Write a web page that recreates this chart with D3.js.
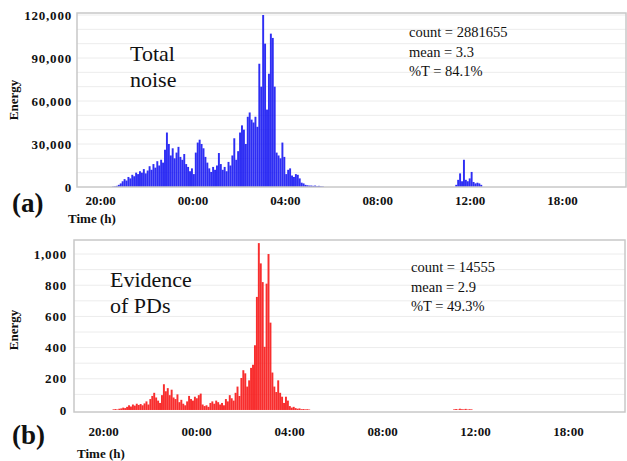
<!DOCTYPE html>
<html>
<head>
<meta charset="utf-8">
<script src="https://cdn.jsdelivr.net/npm/d3@7"></script>
<style>
  html, body { margin: 0; padding: 0; background: #fff; }
  svg { display: block; }
</style>
</head>
<body>
<svg id="chart" width="627" height="461"></svg>
<script>
// ---------- data ----------
const tickHours = [20, 24, 28, 32, 36, 40];
const tickLabels = ["20:00", "00:00", "04:00", "08:00", "12:00", "18:00"];
const binStep = 1 / 12; // 5-minute bins, in hours

// Panel (a): total noise energy
const noiseYTicks = [0, 30000, 60000, 90000, 120000];
const noiseMainStart = 20.56;
const noiseMainValues = [
  300, 500, 800, 1500, 2500, 4000, 5500, 4500, 7000, 6000,
  8500, 7500, 10000, 9000, 11000, 10000, 12500, 9500, 11500, 14500,
  12000, 16000, 13500, 18000, 15000, 19000, 17000, 26000, 38000, 30000,
  22000, 27000, 20000, 24000, 28000, 21000, 19000, 23000, 16000, 14000,
  11000, 13000, 9000, 24000, 31000, 33000, 30000, 27000, 21000, 17000,
  13000, 10500, 14000, 12000, 15000, 23700, 16000, 12000, 14000, 11000,
  17500, 15000, 22000, 34000, 19000, 25000, 38000, 43000, 40000, 30000,
  49000, 52000, 47000, 45000, 49000, 42000, 86000, 70000, 120000, 100000,
  54000, 79000, 107000, 104000, 70000, 24000, 22000, 20000, 31000, 21000,
  9000, 12000, 13000, 8000, 7000, 9000, 8500, 6000, 3000, 2500,
  1500, 1200, 1000, 1000, 800, 1000, 600, 800, 500, 400
];
const noiseLateStart = 35.42;
const noiseLateValues = [1500, 5000, 9500, 4000, 19000, 5000, 4000, 6000, 10500, 3500, 2500, 3000, 2500, 1500];
const noiseStats = ["count = 2881655", "mean = 3.3", "%T = 84.1%"];
const noiseTitle = ["Total", "noise"];

// Panel (b): evidence of PDs energy
const pdYTicks = [0, 200, 400, 600, 800, 1000];
const pdMainStart = 20.45;
const pdMainValues = [
  4, 6, 3, 8, 10, 15, 12, 20, 30, 22,
  35, 28, 40, 32, 38, 30, 42, 55, 35, 70,
  90, 110, 80, 60, 45, 95, 165, 120, 140, 95,
  130, 80, 70, 100, 50, 65, 40, 30, 55, 90,
  70, 60, 85, 75, 95, 105, 35, 25, 30, 20,
  45, 55, 40, 60, 50, 35, 45, 30, 70, 55,
  95, 75, 60, 110, 150, 90, 205, 255, 235, 150,
  190, 270, 290, 415, 725, 1070, 940, 820, 405, 810,
  1000, 560, 240, 150, 115, 190, 110, 85, 45, 85,
  60, 25, 15, 20, 12, 8, 10, 5, 6, 4,
  5, 3
];
const pdLateStart = 35.1;
const pdLateValues = [4, 6, 3, 8, 5, 4, 7, 3, 5, 4];
const pdStats = ["count = 14555", "mean = 2.9", "%T = 49.3%"];
const pdTitle = ["Evidence", "of PDs"];

// ---------- drawing ----------
const FONT = "'Liberation Serif', 'Times New Roman', serif";
const svg = d3.select("#chart");

function label(x, y, txt, size, weight, transform) {
  const t = svg.append("text")
    .attr("font-family", FONT)
    .attr("font-size", size)
    .attr("font-weight", weight || "normal")
    .attr("fill", "#111")
    .text(txt);
  if (transform) t.attr("transform", transform).attr("text-anchor", "middle");
  else t.attr("x", x).attr("y", y);
  return t;
}

function panel(cfg) {
  const g = svg.append("g");
  const x = d3.scaleLinear().domain(cfg.xDomain).range([cfg.left, cfg.right]);
  const y = d3.scaleLinear().domain(cfg.yDomain).range([cfg.bottom, cfg.top]);

  // grid
  g.append("g").selectAll("line").data(cfg.grid).join("line")
    .attr("x1", cfg.left).attr("x2", cfg.right)
    .attr("y1", d => y(d)).attr("y2", d => y(d))
    .attr("stroke", "#ececec").attr("stroke-width", 1);

  // bars
  const bw = (x(binStep) - x(0)) * 1.0;
  cfg.series.forEach(s => {
    g.append("g").selectAll("rect").data(s.values).join("rect")
      .attr("x", (d, i) => x(s.start + i * binStep) - bw / 2)
      .attr("width", bw)
      .attr("y", d => y(d))
      .attr("height", d => Math.max(0, y(0) - y(d)))
      .attr("fill", cfg.color)
      .attr("fill-opacity", 0.88);
  });

  // frame
  g.append("rect")
    .attr("x", cfg.left).attr("y", cfg.top)
    .attr("width", cfg.right - cfg.left).attr("height", cfg.bottom - cfg.top)
    .attr("fill", "none").attr("stroke", "#c8c8c8").attr("stroke-width", 1.5);

  // y axis
  const ya = g.append("g")
    .attr("transform", `translate(${cfg.yLabelX},0)`)
    .call(d3.axisLeft(y).tickValues(cfg.yTicks).tickSize(0).tickPadding(0).tickFormat(d3.format(",")));
  ya.select(".domain").remove();
  ya.attr("font-family", FONT);
  ya.selectAll("text")
    .attr("font-family", FONT)
    .attr("font-size", 13).attr("font-weight", "bold")
    .attr("letter-spacing", "0.8px")
    .attr("fill", "#111");

  // x axis
  const xa = g.append("g")
    .attr("transform", `translate(0,${cfg.xLabelY})`)
    .call(d3.axisBottom(x).tickValues(tickHours).tickSize(0).tickPadding(0)
      .tickFormat((d, i) => tickLabels[i]));
  xa.select(".domain").remove();
  xa.attr("font-family", FONT);
  xa.selectAll("text")
    .attr("font-family", FONT)
    .attr("font-size", 13).attr("font-weight", "bold")
    .attr("fill", "#111");

  // axis titles and panel tag
  label(0, 0, "Energy", 13, "bold", `translate(${cfg.energyX},${cfg.energyY}) rotate(-90)`);
  label(cfg.timeX, cfg.timeY, "Time (h)", 13, "bold");
  label(cfg.tagX, cfg.tagY, cfg.tag, 27, "bold");

  // title inside plot
  cfg.title.forEach((t, i) => label(cfg.titleX, cfg.titleY + i * 26, t, 22, "normal"));

  // stats
  cfg.stats.forEach((t, i) => label(cfg.statsX, cfg.statsY + i * 19.5, t, 14.5, "normal"));
}

panel({
  left: 77, right: 626, top: 13, bottom: 187,
  xDomain: [19.0, 42.77], yDomain: [0, 121400],
  grid: d3.range(10000, 121000, 10000),
  yTicks: noiseYTicks, yLabelX: 72, xLabelY: 196,
  series: [{ start: noiseMainStart, values: noiseMainValues },
           { start: noiseLateStart, values: noiseLateValues }],
  color: "#1111f2",
  energyX: 18, energyY: 100,
  timeX: 68, timeY: 223,
  tag: "(a)", tagX: 12, tagY: 212,
  title: noiseTitle, titleX: 130, titleY: 61,
  stats: noiseStats, statsX: 409, statsY: 37
});

panel({
  left: 74, right: 625, top: 240, bottom: 412,
  xDomain: [18.75, 42.45], yDomain: [-13, 1090],
  grid: d3.range(100, 1001, 100),
  yTicks: pdYTicks, yLabelX: 67, xLabelY: 427,
  series: [{ start: pdMainStart, values: pdMainValues },
           { start: pdLateStart, values: pdLateValues }],
  color: "#f71111",
  energyX: 18, energyY: 330,
  timeX: 77, timeY: 458,
  tag: "(b)", tagX: 12, tagY: 444,
  title: pdTitle, titleX: 110, titleY: 287,
  stats: pdStats, statsX: 411, statsY: 272
});
</script>
</body>
</html>
